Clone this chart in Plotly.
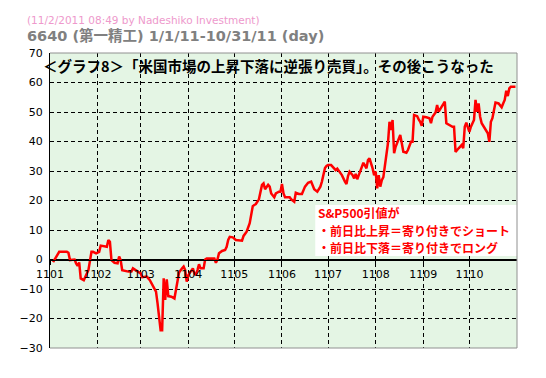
import plotly.graph_objects as go

dates = [
    "2011-01-03", "2011-01-05", "2011-01-07", "2011-01-12", "2011-01-13", "2011-01-14", "2011-01-17",
    "2011-01-18", "2011-01-19", "2011-01-20", "2011-01-21", "2011-01-23", "2011-01-24", "2011-01-26",
    "2011-01-28", "2011-01-29", "2011-01-31",
    "2011-02-02", "2011-02-03", "2011-02-06", "2011-02-07", "2011-02-08", "2011-02-09", "2011-02-10",
    "2011-02-12", "2011-02-14", "2011-02-15", "2011-02-16", "2011-02-17", "2011-02-21", "2011-02-23",
    "2011-02-24", "2011-02-26",
    "2011-03-01", "2011-03-02", "2011-03-05", "2011-03-07", "2011-03-09", "2011-03-11", "2011-03-12",
    "2011-03-13", "2011-03-14", "2011-03-15", "2011-03-16", "2011-03-17", "2011-03-18", "2011-03-19",
    "2011-03-21", "2011-03-23", "2011-03-24", "2011-03-25", "2011-03-26", "2011-03-28", "2011-03-29",
    "2011-03-30", "2011-03-31",
    "2011-04-01", "2011-04-03", "2011-04-04", "2011-04-05", "2011-04-06", "2011-04-07", "2011-04-08",
    "2011-04-09", "2011-04-11", "2011-04-12", "2011-04-13", "2011-04-18", "2011-04-19", "2011-04-20",
    "2011-04-21", "2011-04-23", "2011-04-25", "2011-04-26", "2011-04-27", "2011-04-28", "2011-04-30",
    "2011-05-02", "2011-05-04", "2011-05-06", "2011-05-07", "2011-05-09", "2011-05-11", "2011-05-12",
    "2011-05-13", "2011-05-14", "2011-05-15", "2011-05-17", "2011-05-18", "2011-05-19", "2011-05-20",
    "2011-05-21", "2011-05-23", "2011-05-24", "2011-05-25", "2011-05-27", "2011-05-28", "2011-05-30",
    "2011-05-31",
    "2011-06-01", "2011-06-02", "2011-06-03", "2011-06-06", "2011-06-07", "2011-06-09", "2011-06-10",
    "2011-06-12", "2011-06-14", "2011-06-16", "2011-06-18", "2011-06-20", "2011-06-21", "2011-06-22",
    "2011-06-24", "2011-06-26", "2011-06-27", "2011-06-28", "2011-06-29", "2011-06-30",
    "2011-07-01", "2011-07-03", "2011-07-04", "2011-07-06", "2011-07-07", "2011-07-08", "2011-07-10",
    "2011-07-12", "2011-07-13", "2011-07-14", "2011-07-15", "2011-07-17", "2011-07-18", "2011-07-19",
    "2011-07-20", "2011-07-21", "2011-07-22", "2011-07-23", "2011-07-24", "2011-07-26", "2011-07-27",
    "2011-07-28", "2011-07-29", "2011-07-30", "2011-07-31",
    "2011-08-01", "2011-08-02", "2011-08-03", "2011-08-04", "2011-08-05", "2011-08-06", "2011-08-07",
    "2011-08-08", "2011-08-09", "2011-08-10", "2011-08-11", "2011-08-12", "2011-08-13", "2011-08-14",
    "2011-08-16", "2011-08-17", "2011-08-18", "2011-08-19", "2011-08-21", "2011-08-22", "2011-08-24",
    "2011-08-25", "2011-08-26", "2011-08-28", "2011-08-29", "2011-08-30", "2011-08-31",
    "2011-09-01", "2011-09-03", "2011-09-05", "2011-09-06", "2011-09-07", "2011-09-09", "2011-09-10",
    "2011-09-11", "2011-09-12", "2011-09-14", "2011-09-15", "2011-09-16", "2011-09-18", "2011-09-20",
    "2011-09-21", "2011-09-22", "2011-09-24", "2011-09-25", "2011-09-26", "2011-09-27", "2011-09-28",
    "2011-09-29", "2011-09-30",
    "2011-10-01", "2011-10-02", "2011-10-04", "2011-10-05", "2011-10-06", "2011-10-07", "2011-10-08",
    "2011-10-09", "2011-10-11", "2011-10-13", "2011-10-14", "2011-10-15", "2011-10-16", "2011-10-17",
    "2011-10-18", "2011-10-20", "2011-10-22", "2011-10-23", "2011-10-24", "2011-10-25", "2011-10-26",
    "2011-10-27", "2011-10-28", "2011-10-31",
]

values = [
    -0.9, 0.7, 2.6, 2.6, 2.3, -0.2, 0.0,
    -1.3, -2.2, -1.0, -6.4, -7.0, -6.0, -3.6,
    2.6, 2.6, 2.1,
    2.6, 4.7, 4.3, 4.3, 6.6, 6.0, -0.2,
    -1.1, -1.3, 1.0, -0.2, -3.6, -4.1, -4.1,
    -3.0, -3.8,
    -4.7, -6.0, -5.8, -7.0, -9.2, -10.9, -14.8,
    -20.0, -24.0, -24.0, -6.4, -13.7, -6.7, -12.4,
    -12.6, -13.2, -9.8, -7.0, -4.4, -3.0, -2.4,
    -3.6, -7.5,
    -5.3, -3.6, -3.0, -4.7, -5.3, -3.6, -1.6,
    -3.0, -3.0, 0.0, 0.3, 0.3, -1.1, 0.0,
    2.1, 2.9, 3.2, 4.3, 6.6, 7.7, 7.5,
    6.6, 6.4, 6.4, 8.0, 9.4, 12.3, 15.0,
    18.1, 18.5, 18.8, 20.4, 22.4, 25.3, 25.8,
    23.8, 25.3, 24.7, 22.4, 21.1, 22.4, 23.0,
    23.0,
    25.6, 22.4, 21.1, 21.1, 20.4, 19.6, 22.6,
    22.2, 22.2, 24.7, 26.0, 26.4, 25.3, 23.8,
    23.0, 24.7, 26.4, 28.5, 31.0, 31.7,
    32.0, 32.0, 31.3, 30.3, 30.8, 30.1, 28.6,
    26.4, 25.6, 28.3, 29.8, 28.6, 27.5, 29.0,
    27.2, 28.6, 30.1, 31.5, 32.8, 30.9, 33.7,
    34.3, 32.8, 30.9, 28.6,
    29.8, 24.1, 28.6, 24.7, 26.9, 27.9, 31.5,
    34.8, 39.4, 46.7, 43.9, 47.3, 36.0, 38.2,
    40.5, 42.2, 39.4, 36.5, 36.2, 37.1, 39.9,
    39.9, 49.0, 48.6, 47.5, 46.7, 45.3,
    48.4, 48.2, 47.9, 46.2, 48.4, 49.8, 52.4,
    50.1, 50.9, 52.9, 53.5, 46.2, 45.6, 45.0,
    45.0, 36.5, 37.7, 38.2, 38.8, 37.7, 45.0,
    46.4, 44.5,
    43.3, 45.0, 47.3, 54.1, 50.1, 52.9, 48.4,
    46.2, 44.5, 42.8, 39.9, 46.7, 47.9, 50.4,
    53.2, 52.9, 51.6, 52.9, 54.1, 57.2, 55.4,
    58.0, 58.6, 58.6,
]

month_ticks = ["2011-01-01", "2011-02-01", "2011-03-01", "2011-04-01", "2011-05-01",
               "2011-06-01", "2011-07-01", "2011-08-01", "2011-09-01", "2011-10-01"]
month_labels = ["1101", "1102", "1103", "1104", "1105", "1106", "1107", "1108", "1109", "1110"]
y_ticks = [-30, -20, -10, 0, 10, 20, 30, 40, 50, 60, 70]

header1 = "(11/2/2011 08:49 by Nadeshiko Investment)"
header2 = "6640 (第一精工) 1/1/11-10/31/11 (day)"
title_text = "＜グラフ8＞「米国市場の上昇下落に逆張り売買」。その後こうなった"
note_lines = ["S&P500引値が", "・前日比上昇＝寄り付きでショート", "・前日比下落＝寄り付きでロング"]

JP = "Noto Sans CJK JP, DejaVu Sans, sans-serif"

fig = go.Figure()
fig.add_trace(go.Scatter(
    x=dates, y=values, mode="lines",
    line=dict(color="#ff0000", width=2.5),
    hoverinfo="skip", showlegend=False,
))

annotations = [
    dict(text=header1, xref="paper", yref="paper", x=-0.0545, y=1.112,
         xanchor="left", yanchor="middle", showarrow=False,
         font=dict(family="DejaVu Sans, sans-serif", size=10.5, color="#ee99cc")),
    dict(text="<b>" + header2 + "</b>", xref="paper", yref="paper", x=-0.0545, y=1.058,
         xanchor="left", yanchor="middle", showarrow=False,
         font=dict(family="DejaVu Sans, Noto Sans CJK JP, sans-serif", size=14.5, color="#808080")),
    dict(text="<b>" + title_text + "</b>", xref="paper", yref="paper", x=-0.0203, y=0.956,
         xanchor="left", yanchor="middle", showarrow=False,
         font=dict(family=JP, size=14.5, color="black")),
]
note_y = [0.4593, 0.4, 0.3407]
for line, yy in zip(note_lines, note_y):
    annotations.append(dict(
        text="<b>" + line + "</b>", xref="paper", yref="paper", x=0.572, y=yy,
        xanchor="left", yanchor="middle", showarrow=False, borderpad=0,
        font=dict(family=JP, size=12, color="#ff0000"),
    ))

fig.update_layout(
    width=538, height=370,
    margin=dict(l=41.5, r=29, t=45, b=30),
    paper_bgcolor="white",
    plot_bgcolor="#e4f5e4",
    showlegend=False,
    xaxis=dict(
        type="date",
        range=["2011-01-01", "2011-11-01"],
        tickvals=month_ticks, ticktext=month_labels,
        anchor="free", position=0.3,
        showline=True, linecolor="black", linewidth=1,
        ticks="outside", ticklen=4, tickcolor="black",
        showgrid=True, gridcolor="black", gridwidth=1, griddash="4px,3px",
        tickfont=dict(family="DejaVu Sans, sans-serif", size=11, color="black"),
        zeroline=False,
    ),
    yaxis=dict(
        range=[-30, 70],
        tickvals=y_ticks,
        showline=True, linecolor="black", linewidth=1,
        ticks="", ticklabelstandoff=4,
        showgrid=True, gridcolor="black", gridwidth=1, griddash="4px,3px",
        zeroline=True, zerolinecolor="black", zerolinewidth=1,
        tickfont=dict(family="DejaVu Sans, sans-serif", size=11, color="black"),
    ),
    shapes=[
        dict(type="rect", xref="paper", yref="paper", x0=0.568, x1=1.0, y0=0.312, y1=0.485,
             fillcolor="white", line=dict(width=0), layer="above"),
        dict(type="line", xref="paper", yref="paper", x0=0, x1=1, y0=1, y1=1,
             line=dict(color="#909090", width=1)),
        dict(type="line", xref="paper", yref="paper", x0=1, x1=1, y0=0, y1=1,
             line=dict(color="#909090", width=1)),
        dict(type="line", xref="paper", yref="paper", x0=0, x1=1, y0=0, y1=0,
             line=dict(color="#909090", width=1)),
    ],
    annotations=annotations,
)

fig.write_html("out.html")
